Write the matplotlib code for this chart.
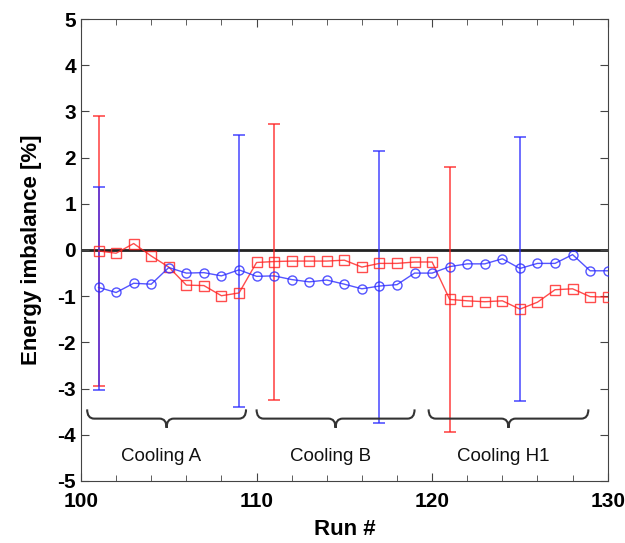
import numpy as np
import matplotlib
matplotlib.use("Agg")
import matplotlib.pyplot as plt
from matplotlib.path import Path
from matplotlib.patches import PathPatch

plt.rcParams['font.family'] = ['Liberation Sans', 'DejaVu Sans']
plt.rcParams['axes.unicode_minus'] = False

runs = np.arange(101, 131)

# red squares
red_vals = [-0.02, -0.07, 0.14, -0.13, -0.37, -0.76, -0.77, -0.99, -0.93, -0.27,
            -0.25, -0.24, -0.24, -0.24, -0.22, -0.37, -0.29, -0.29, -0.26, -0.26,
            -1.07, -1.10, -1.12, -1.10, -1.28, -1.13, -0.86, -0.84, -1.01, -1.02]
# blue circles
blue_vals = [-0.81, -0.92, -0.72, -0.74, -0.38, -0.50, -0.49, -0.56, -0.43, -0.57,
             -0.56, -0.64, -0.69, -0.65, -0.74, -0.84, -0.78, -0.75, -0.50, -0.50,
             -0.36, -0.30, -0.30, -0.19, -0.40, -0.29, -0.29, -0.10, -0.45, -0.45]

# error bar bounds (top, bottom) at selected runs
red_err_runs = [101, 111, 121]
red_err_top = [2.90, 2.72, 1.80]
red_err_bot = [-2.95, -3.25, -3.95]
blue_err_runs = [101, 109, 117, 125]
blue_err_top = [1.37, 2.50, 2.15, 2.44]
blue_err_bot = [-3.04, -3.39, -3.75, -3.27]

groups = ["Cooling A", "Cooling B", "Cooling H1"]
group_spans = [(100.35, 109.4), (110.0, 119.0), (119.8, 128.9)]

RED = '#ff2020'
BLUE = '#2a2aff'

fig = plt.figure(figsize=(6.25, 5.43), dpi=100)
ax = fig.add_axes([0.1296, 0.1142, 0.8427, 0.8508])

ax.axhline(0, color='#222222', lw=2, zorder=1)


def draw_series(vals, err_runs, tops, bots, color, marker):
    ax.plot(runs, vals, color=color, lw=1, marker=marker, ms=6.5,
            mfc='none', mec=color, mew=1, alpha=0.8, zorder=3)
    idx = [list(runs).index(r) for r in err_runs]
    y = np.array(vals)[idx]
    yerr = [y - np.array(bots), np.array(tops) - y]
    ax.errorbar(err_runs, y, yerr=yerr, fmt='none', ecolor=color,
                elinewidth=1.2, capsize=4, capthick=1.2, alpha=0.8, zorder=2)


draw_series(red_vals, red_err_runs, red_err_top, red_err_bot, RED, 's')
draw_series(blue_vals, blue_err_runs, blue_err_top, blue_err_bot, BLUE, 'o')


def brace(x0, x1, top=-3.45, base=-3.65, tip=-3.85, r=0.4):
    xm = (x0 + x1) / 2
    verts = [(x0, top), (x0, base), (x0 + r, base),
             (xm - r, base), (xm, base), (xm, tip),
             (xm, base), (xm + r, base),
             (x1 - r, base), (x1, base), (x1, top)]
    codes = [Path.MOVETO, Path.CURVE3, Path.CURVE3,
             Path.LINETO, Path.CURVE3, Path.CURVE3,
             Path.CURVE3, Path.CURVE3,
             Path.LINETO, Path.CURVE3, Path.CURVE3]
    ax.add_patch(PathPatch(Path(verts, codes), fill=False,
                           ec='#333333', lw=1.5, zorder=2))


for name, (x0, x1) in zip(groups, group_spans):
    brace(x0, x1)
    ax.text((x0 + x1) / 2 - 0.3, -4.47, name, ha='center', va='center',
            fontsize=13.5, color='#111111')

ax.set_xlim(100, 130)
ax.set_ylim(-5, 5)
ax.set_xticks([100, 110, 120, 130])
ax.set_xticks(np.arange(100, 131, 2), minor=True)
ax.set_yticks(np.arange(-5, 6, 1))
ax.tick_params(which='both', direction='in', top=True, right=True,
               color='#444444')
ax.tick_params(which='major', length=6, labelsize=15)
ax.tick_params(axis='x', which='major', pad=8)
ax.tick_params(which='minor', length=4)
for lbl in ax.get_xticklabels() + ax.get_yticklabels():
    lbl.set_fontweight('bold')
for s in ax.spines.values():
    s.set_color('#444444')

ax.set_xlabel('Run #', fontsize=16, fontweight='bold', labelpad=6)
ax.set_ylabel('Energy imbalance [%]', fontsize=16, fontweight='bold', labelpad=11)

fig.savefig('out.png', dpi=100)
